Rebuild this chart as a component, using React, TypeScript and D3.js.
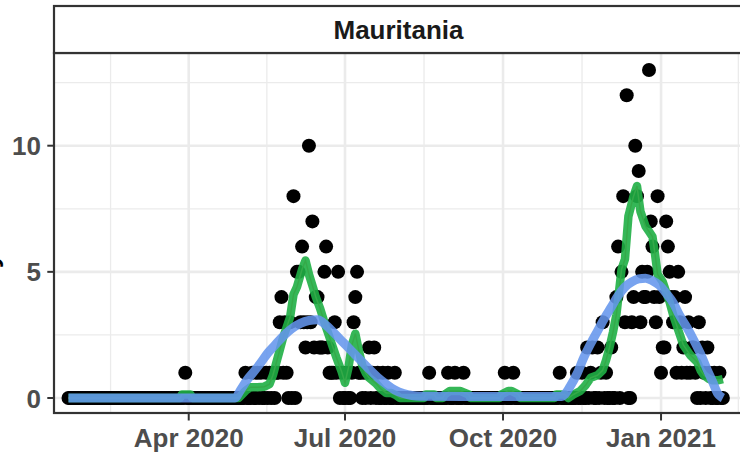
import React from "react";
import * as d3 from "d3";

// ---------- data ----------
const facetTitle = "Mauritania";
const yTitle = "Daily deaths";
const firstDay = "2020-01-22";

// daily deaths, one value per day starting 2020-01-22 (rows of 10 days)
const dailyDeaths = [
  0, 0, 0, 0, 0, 0, 0, 0, 0, 0, // 0
  0, 0, 0, 0, 0, 0, 0, 0, 0, 0, // 10
  0, 0, 0, 0, 0, 0, 0, 0, 0, 0, // 20
  0, 0, 0, 0, 0, 0, 0, 0, 0, 0, // 30
  0, 0, 0, 0, 0, 0, 0, 0, 0, 0, // 40
  0, 0, 0, 0, 0, 0, 0, 0, 0, 0, // 50
  0, 0, 0, 0, 0, 0, 0, 0, 1, 0, // 60
  0, 0, 0, 0, 0, 0, 0, 0, 0, 0, // 70
  0, 0, 0, 0, 0, 0, 0, 0, 0, 0, // 80
  0, 0, 0, 0, 0, 0, 0, 0, 0, 0, // 90
  0, 0, 0, 1, 0, 0, 0, 1, 0, 0, // 100
  1, 0, 1, 0, 0, 1, 0, 1, 0, 1, // 110
  0, 1, 1, 3, 4, 1, 3, 1, 0, 3, // 120
  0, 8, 0, 5, 5, 3, 6, 3, 2, 3, // 130
  10, 3, 7, 2, 4, 4, 2, 2, 2, 5, // 140
  6, 2, 1, 1, 1, 3, 1, 5, 0, 1, // 150
  0, 0, 1, 0, 0, 1, 3, 4, 5, 1, // 160
  1, 0, 1, 0, 1, 2, 0, 1, 2, 0, // 170
  1, 0, 0, 1, 0, 0, 1, 0, 0, 0, // 180
  1, 0, 0, 0, 0, 0, 0, 0, 0, 0, // 190
  0, 0, 0, 0, 0, 0, 0, 0, 0, 0, // 200
  1, 0, 0, 0, 0, 0, 0, 0, 0, 0, // 210
  0, 1, 0, 0, 0, 1, 0, 0, 0, 0, // 220
  1, 0, 0, 0, 0, 0, 0, 0, 0, 0, // 230
  0, 0, 0, 0, 0, 0, 0, 0, 0, 0, // 240
  0, 0, 0, 0, 1, 0, 0, 0, 0, 1, // 250
  0, 0, 0, 0, 0, 0, 0, 0, 0, 0, // 260
  0, 0, 0, 0, 0, 0, 0, 0, 0, 0, // 270
  0, 0, 0, 0, 0, 0, 1, 0, 0, 0, // 280
  0, 0, 0, 0, 0, 0, 1, 0, 0, 1, // 290
  0, 0, 2, 0, 1, 2, 0, 0, 2, 0, // 300
  1, 3, 0, 1, 0, 0, 2, 0, 0, 4, // 310
  6, 0, 5, 8, 3, 12, 0, 0, 3, 4, // 320
  10, 8, 9, 3, 5, 4, 4, 5, 13, 7, // 330
  6, 4, 3, 8, 4, 1, 2, 2, 7, 6, // 340
  5, 4, 3, 4, 1, 5, 3, 1, 2, 4, // 350
  1, 3, 1, 2, 2, 1, 0, 3, 0, 2, // 360
  1, 0, 2, 1, 0, 0, 1, 0, 0, 1, // 370
  0, 0, // 380
];

// 7-day average line, [day index, value]
const rollingAvg: [number, number][] = [
  [0, 0], [65, 0], [66, 0.14], [71, 0.14], [72, 0], [99, 0], [101, 0.14], [103, 0.28],
  [106, 0.43], [110, 0.43], [114, 0.45], [117, 0.55], [119, 0.9], [121, 1.4], [123, 1.9],
  [125, 2.4], [127, 2.8], [129, 3.2], [131, 4.1], [133, 4.4], [136, 5.1], [138, 5.45],
  [140, 4.9], [142.5, 4.35], [144, 4.0], [146.5, 3.55], [149, 3.0], [151, 2.6], [154, 2.0],
  [156, 1.6], [159, 1.05], [161, 0.6], [163, 1.2], [165, 2.1], [167, 2.55], [169, 1.9],
  [171, 1.3], [173, 1.0], [175, 0.8], [179, 0.58], [182, 0.35], [185, 0.2], [188, 0.2],
  [191, 0.1], [193, 0], [207, 0], [208, 0.14], [213, 0.14], [214, 0], [218, 0], [219, 0.14],
  [222, 0.28], [228, 0.28], [233, 0.14], [234, 0], [251, 0], [252, 0.14], [256, 0.28],
  [258, 0.28], [262, 0.14], [263, 0], [283, 0], [284, 0.14], [289, 0.14], [291, 0],
  [294, 0.14], [298, 0.28], [301, 0.5], [304, 0.8], [308, 0.9], [311, 1.1], [313, 1.5],
  [315, 2.0], [317, 2.6], [319, 3.3], [321, 4.5], [322, 5.1], [324, 5.5], [326, 7.2],
  [329, 8.0], [331, 8.4], [333, 7.4], [336, 6.8], [338, 6.6], [340, 6.4], [341.5, 5.7],
  [343, 4.9], [346, 4.6], [348, 4.2], [350, 3.8], [352, 3.3], [354, 2.9], [356, 2.5],
  [358, 2.1], [362, 1.7], [366, 1.43], [368, 1.1], [370, 0.9], [373, 0.75], [375, 0.7],
  [378, 0.7], [381, 0.75],
];

// smooth trend, [day index, value]
const smoothTrend: [number, number][] = [
  [0, 0], [97, 0], [100, 0.3], [104, 0.72], [108, 1.05], [112, 1.4], [116, 1.78],
  [120, 2.08], [125, 2.45], [130, 2.75], [135, 2.96], [140, 3.07], [145, 3.1], [150, 2.88],
  [155, 2.55], [160, 2.2], [165, 1.85], [170, 1.5], [175, 1.15], [180, 0.82], [185, 0.55],
  [190, 0.32], [195, 0.18], [200, 0.1], [205, 0.07], [230, 0.06], [260, 0.06], [287, 0.06],
  [289, 0.15], [292, 0.45], [296, 0.95], [300, 1.6], [304, 2.15], [308, 2.65], [312, 3.15],
  [316, 3.6], [320, 4.05], [324, 4.4], [328, 4.6], [332, 4.72], [336, 4.75], [340, 4.65],
  [344, 4.47], [348, 4.15], [352, 3.78], [356, 3.25], [360, 2.8], [364, 2.3], [368, 1.75],
  [372, 1.1], [375, 0.65], [378, 0.18], [380, 0.04], [381, 0],
];

const xTickDates = ["2020-04-01", "2020-07-01", "2020-10-01", "2021-01-01"];
const xTickLabels = ["Apr 2020", "Jul 2020", "Oct 2020", "Jan 2021"];
const xOuterBreaks = ["2020-01-01", "2021-04-01"];
const yTicks = [0, 5, 10];
const yMinor = [2.5, 7.5, 12.5];

// ---------- layout ----------
const W = 740;
const H = 456;
const left = 54;
const right = 743;
const top = 53;
const bottom = 413;
const stripTop = 6;
const FONT = "'Liberation Sans', Arial, Helvetica, sans-serif";

const DAY = 86400000;
const t0 = new Date(firstDay + "T00:00:00Z").getTime();
const dayDate = (i: number) => new Date(t0 + i * DAY);
const parse = (s: string) => new Date(s + "T00:00:00Z");

export default function App() {
  const n = dailyDeaths.length;
  const x = d3
    .scaleUtc()
    .domain([dayDate(0), dayDate(n - 1)])
    .range([68.5, 68.5 + (n - 1) * 1.7175]);
  const y = d3.scaleLinear().domain([0, 10]).range([398, 145.7]);

  const majors = xTickDates.map(parse);
  const allBreaks = [parse(xOuterBreaks[0]), ...majors, parse(xOuterBreaks[1])];
  const minors = d3
    .pairs(allBreaks)
    .map(([a, b]) => new Date((a.getTime() + b.getTime()) / 2))
    .filter((d) => x(d) > left && x(d) < right);

  const line = d3
    .line<[number, number]>()
    .x((d) => x(dayDate(d[0])))
    .y((d) => y(d[1]));
  const smoothLine = d3
    .line<[number, number]>()
    .x((d) => x(dayDate(d[0])))
    .y((d) => y(d[1]))
    .curve(d3.curveMonotoneX);

  const grid = "#EBEBEB";
  const dark = "#333333";
  const axisText = "#4D4D4D";

  return (
    <svg
      width={W}
      height={H}
      style={{ position: "absolute", left: 0, top: 0, background: "#fff" }}
      fontFamily={FONT}
    >
      <defs>
        <clipPath id="panel">
          <rect x={left} y={top} width={right - left} height={bottom - top} />
        </clipPath>
      </defs>
      <rect x={0} y={0} width={W} height={H} fill="#fff" />

      {/* y title (mostly outside the frame, as in the reference) */}
      <text
        transform="translate(-2,239) rotate(-90)"
        textAnchor="middle"
        fontSize={26}
        fontWeight="bold"
        fill="#000"
      >
        {yTitle}
      </text>

      {/* grid */}
      <g clipPath="url(#panel)">
        {yMinor.map((v) => (
          <line key={"ym" + v} x1={left} x2={right} y1={y(v)} y2={y(v)} stroke={grid} strokeWidth={1.3} />
        ))}
        {minors.map((d, i) => (
          <line key={"xm" + i} x1={x(d)} x2={x(d)} y1={top} y2={bottom} stroke={grid} strokeWidth={1.3} />
        ))}
        {yTicks.map((v) => (
          <line key={"yM" + v} x1={left} x2={right} y1={y(v)} y2={y(v)} stroke={grid} strokeWidth={2.6} />
        ))}
        {majors.map((d, i) => (
          <line key={"xM" + i} x1={x(d)} x2={x(d)} y1={top} y2={bottom} stroke={grid} strokeWidth={2.6} />
        ))}

        {/* points */}
        {dailyDeaths.map((v, i) => (
          <circle key={"p" + i} cx={x(dayDate(i))} cy={y(v)} r={7} fill="#000" />
        ))}

        {/* lines */}
        <path d={line(rollingAvg) || ""} fill="none" stroke="#F8766D" strokeWidth={1.5} />
        <path
          d={line(rollingAvg) || ""}
          fill="none"
          stroke="#1FAF45"
          strokeOpacity={0.9}
          strokeWidth={8.5}
          strokeLinejoin="round"
        />
        <path
          d={smoothLine(smoothTrend) || ""}
          fill="none"
          stroke="#6495ED"
          strokeOpacity={0.87}
          strokeWidth={9}
          strokeLinejoin="round"
        />
      </g>

      {/* panel border */}
      <rect x={left} y={top} width={right - left} height={bottom - top} fill="none" stroke={dark} strokeWidth={2.2} />

      {/* strip */}
      <rect x={left} y={stripTop} width={right - left} height={top - stripTop} fill="#fff" stroke={dark} strokeWidth={2.2} />
      <text x={(left + right) / 2} y={39.3} textAnchor="middle" fontSize={26} fontWeight="bold" fill="#1A1A1A">
        {facetTitle}
      </text>

      {/* y axis */}
      {yTicks.map((v) => (
        <g key={"yt" + v}>
          <line x1={47.3} x2={left} y1={y(v)} y2={y(v)} stroke={dark} strokeWidth={2} />
          <text x={41} y={y(v) + 9.5} textAnchor="end" fontSize={26} fontWeight="bold" fill={axisText}>
            {v}
          </text>
        </g>
      ))}

      {/* x axis */}
      {majors.map((d, i) => (
        <g key={"xt" + i}>
          <line x1={x(d)} x2={x(d)} y1={bottom} y2={420.5} stroke={dark} strokeWidth={2} />
          <text x={x(d)} y={447} textAnchor="middle" fontSize={26} fontWeight="bold" fill={axisText}>
            {xTickLabels[i]}
          </text>
        </g>
      ))}
    </svg>
  );
}
